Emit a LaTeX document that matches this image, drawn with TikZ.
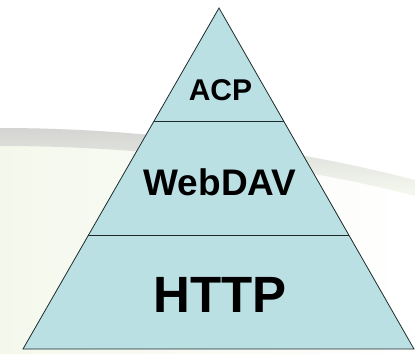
\documentclass[tikz,border=0pt]{standalone}
\usepackage{fontspec}
\setmainfont{Liberation Sans}
\usetikzlibrary{calc}
\definecolor{layerfill}{HTML}{BBE0E3}
\definecolor{edge}{HTML}{1E2A2A}
\definecolor{paleback}{HTML}{F4F8EC}
\tikzset{
  lyr/.style={font=\bfseries,text=black,inner sep=0pt},
  sep/.style={draw=edge,line width=1.4pt},
  rim/.style={draw=edge,line width=0.8pt,line join=miter},
}
\begin{document}
\begin{tikzpicture}[x=1pt,y=-1pt]
  \useasboundingbox (0,0) rectangle (415,354);
  % background swoosh
  \shade[left color=paleback,right color=white] (0,128) .. controls (150,128) and (300,150) .. (415,180)
    -- (415,354) -- (0,354) -- cycle;
  \shade[top color=black!20,bottom color=paleback,opacity=0.8] (0,128) .. controls (150,128) and (300,150) .. (415,180)
    -- (415,196) .. controls (300,166) and (150,146) .. (0,146) -- cycle;
  % pyramid
  \coordinate (top) at (219,8);
  \coordinate (bl) at (23,349);
  \coordinate (br) at (414,349);
  \filldraw[fill=layerfill,rim] (top) -- (br) -- (bl) -- cycle;
  \draw[sep] ($(top)!0.332!(bl)$) coordinate (l1) -- ($(top)!0.332!(br)$) coordinate (r1);
  \draw[sep] ($(top)!0.668!(bl)$) coordinate (l2) -- ($(top)!0.668!(br)$) coordinate (r2);
  \node[lyr,font=\fontsize{30}{30}\selectfont\bfseries] (acp) at (220.5,90) {ACP};
  \node[lyr,font=\fontsize{37}{37}\selectfont\bfseries] (webdav) at (220,182) {WebDAV};
  \node[lyr,font=\fontsize{51}{51}\selectfont\bfseries] (http) at (220,295) {HTTP};
\end{tikzpicture}
\end{document}
